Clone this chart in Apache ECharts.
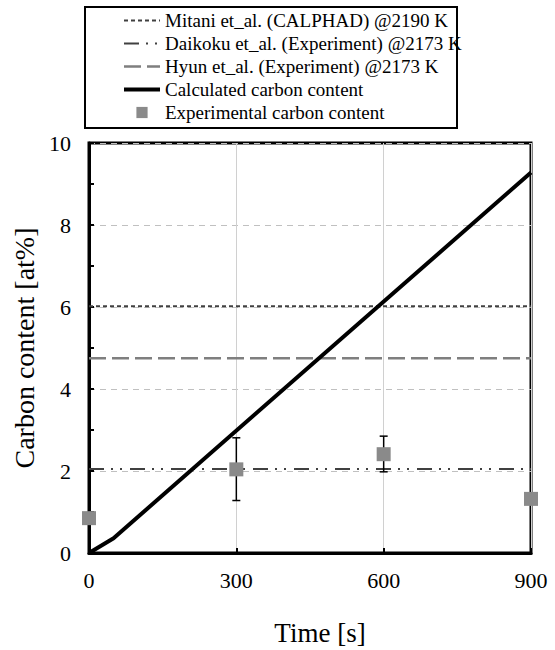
<!DOCTYPE html>
<html>
<head>
<meta charset="utf-8">
<script src="https://cdn.jsdelivr.net/npm/echarts@6/dist/echarts.min.js"></script>
<style>
  html, body { margin: 0; padding: 0; background: #fff; }
  #main { width: 555px; height: 650px; }
</style>
</head>
<body>
<div id="main"></div>
<script>
  // values
  var seriesNames = [
    'Mitani et_al. (CALPHAD) @2190 K',
    'Daikoku et_al. (Experiment) @2173 K',
    'Hyun et_al. (Experiment) @2173 K',
    'Calculated carbon content',
    'Experimental carbon content'
  ];
  var refTime = [0, 900];
  var mitaniLevel = [6.02, 6.02];
  var daikokuLevel = [2.05, 2.05];
  var hyunLevel = [4.75, 4.75];

  var calcTime = [0, 50, 900];
  var calcCarbon = [0, 0.36, 9.28];

  var expTime = [0, 300, 600, 900];
  var expCarbon = [0.85, 2.04, 2.41, 1.32];

  var errTime = [300, 600];
  var errLow = [1.28, 1.98];
  var errHigh = [2.81, 2.85];

  var xTicks = [0, 300, 600, 900];
  var yTicks = [0, 2, 4, 6, 8, 10];

  function pairs(xs, ys) {
    return xs.map(function (x, i) { return [x, ys[i]]; });
  }

  var font = 'Liberation Serif, Times New Roman, serif';
  var chart = echarts.init(document.getElementById('main'), null, { renderer: 'svg' });

  // line styles, shared by the plot and the legend icons
  var mitaniStyle = { color: '#404040', width: 2, type: [4, 3] };
  var daikokuStyle = { color: '#404040', width: 2, type: [15, 7, 2, 7, 2, 8] };
  var hyunStyle = { color: '#7f7f7f', width: 2.5, type: [17, 6] };
  var calcStyle = { color: '#000', width: 4 };

  chart.setOption({
    animation: false,
    textStyle: { fontFamily: font },
    grid: {
      left: 89, right: 24, top: 143, bottom: 97,
      show: true, borderColor: '#000', borderWidth: 3,
      containLabel: false, outerBoundsMode: 'none'
    },
    legend: {
      orient: 'vertical',
      left: 122, top: 9,
      padding: 0,
      itemGap: 0,
      itemWidth: 36,
      itemHeight: 14,
      selectedMode: false,
      textStyle: { fontFamily: font, fontSize: 19, color: '#000', lineHeight: 23 },
      data: [
        { name: seriesNames[0], itemStyle: { opacity: 0 }, lineStyle: mitaniStyle },
        { name: seriesNames[1], itemStyle: { opacity: 0 }, lineStyle: daikokuStyle },
        { name: seriesNames[2], itemStyle: { opacity: 0 }, lineStyle: hyunStyle },
        { name: seriesNames[3], itemStyle: { opacity: 0 }, lineStyle: calcStyle },
        { name: seriesNames[4] }
      ]
    },
    graphic: [{
      type: 'rect',
      shape: { x: 85, y: 7, width: 372, height: 121 },
      style: { fill: 'none', stroke: '#000', lineWidth: 2 },
      silent: true
    }],
    xAxis: {
      type: 'value',
      min: xTicks[0], max: xTicks[xTicks.length - 1], interval: 300,
      name: 'Time [s]',
      nameLocation: 'middle',
      nameGap: 66,
      nameTextStyle: { fontFamily: font, fontSize: 27, lineHeight: 28, color: '#000', padding: [0, 0, 0, 20] },
      axisLine: { lineStyle: { color: '#000', width: 3 } },
      axisTick: { inside: true, length: 5, lineStyle: { color: '#000', width: 2 } },
      axisLabel: { fontFamily: font, fontSize: 22, color: '#000', margin: 16 },
      splitLine: { show: true, lineStyle: { color: '#d0d0d0', width: 1 } }
    },
    yAxis: {
      type: 'value',
      min: yTicks[0], max: yTicks[yTicks.length - 1], interval: 2,
      name: 'Carbon content [at%]',
      nameLocation: 'middle',
      nameGap: 47,
      nameTextStyle: { fontFamily: font, fontSize: 28, color: '#000' },
      axisLine: { show: true, lineStyle: { color: '#000', width: 3 } },
      axisTick: { show: true, inside: true, length: 5, lineStyle: { color: '#000', width: 2 } },
      minorTick: { show: true, splitNumber: 2, length: 5, lineStyle: { color: '#000', width: 2 } },
      axisLabel: { fontFamily: font, fontSize: 22, color: '#000', margin: 18 },
      splitLine: { show: true, lineStyle: { color: '#c0c0c0', width: 1, type: [6, 5] } }
    },
    series: [
      {
        name: seriesNames[0], type: 'line', symbol: 'none', z: 3,
        data: pairs(refTime, mitaniLevel),
        lineStyle: mitaniStyle
      },
      {
        name: seriesNames[1], type: 'line', symbol: 'none', z: 3,
        data: pairs(refTime, daikokuLevel),
        lineStyle: daikokuStyle
      },
      {
        name: seriesNames[2], type: 'line', symbol: 'none', z: 3,
        data: pairs(refTime, hyunLevel),
        lineStyle: hyunStyle
      },
      {
        name: seriesNames[3], type: 'line', symbol: 'none', z: 4,
        data: pairs(calcTime, calcCarbon),
        lineStyle: calcStyle
      },
      {
        name: 'error', type: 'custom', z: 5,
        data: errTime.map(function (t, i) { return [t, errLow[i], errHigh[i]]; }),
        renderItem: function (params, api) {
          var hi = api.coord([api.value(0), api.value(2)]);
          var lo = api.coord([api.value(0), api.value(1)]);
          var cap = 4;
          var st = { stroke: '#000', lineWidth: 1.5 };
          return {
            type: 'group',
            children: [
              { type: 'line', shape: { x1: hi[0], y1: hi[1], x2: lo[0], y2: lo[1] }, style: st },
              { type: 'line', shape: { x1: hi[0] - cap, y1: hi[1], x2: hi[0] + cap, y2: hi[1] }, style: st },
              { type: 'line', shape: { x1: lo[0] - cap, y1: lo[1], x2: lo[0] + cap, y2: lo[1] }, style: st }
            ]
          };
        }
      },
      {
        name: seriesNames[4], type: 'line', z: 6,
        symbol: 'rect', symbolSize: 14, showAllSymbol: true, clip: false,
        data: pairs(expTime, expCarbon),
        itemStyle: { color: '#8a8a8a' },
        lineStyle: { width: 0, opacity: 0 }
      }
    ]
  });
</script>
</body>
</html>
